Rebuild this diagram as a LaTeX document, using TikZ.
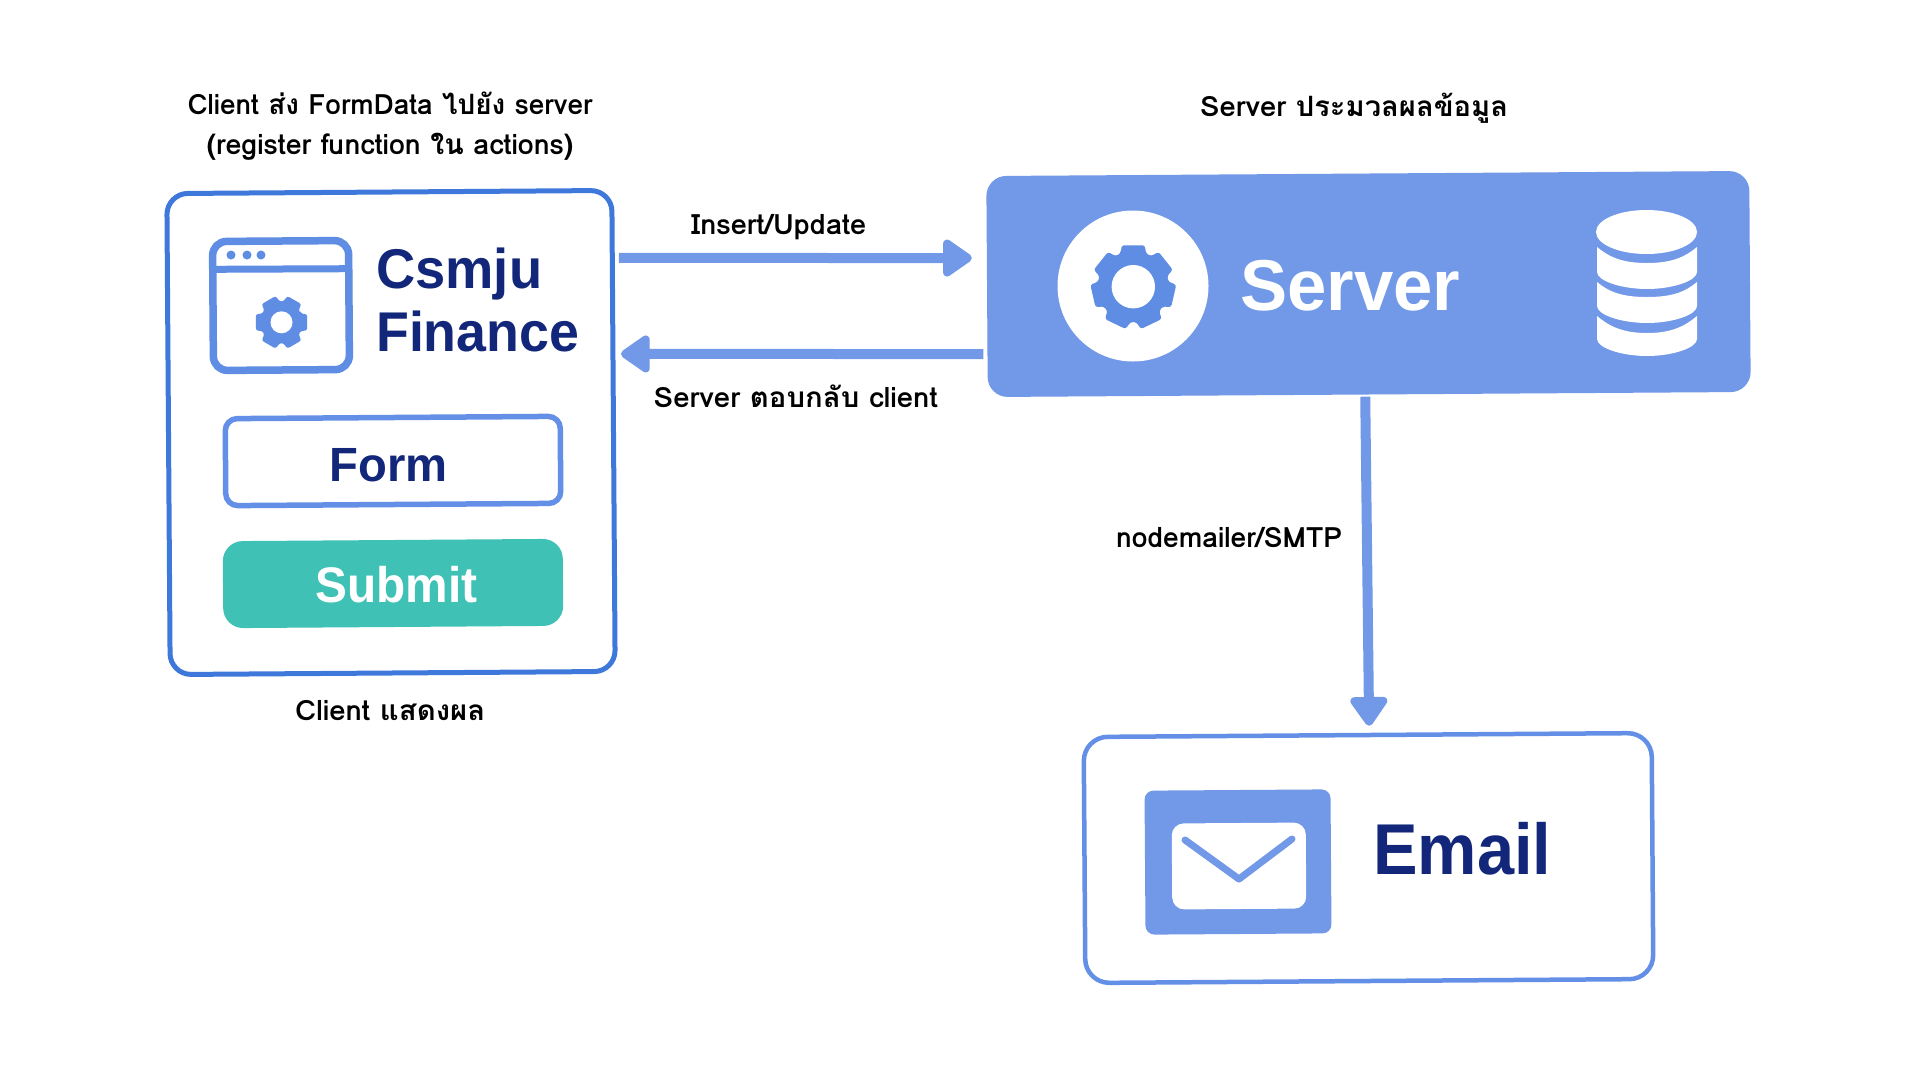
\documentclass[tikz,border=0pt]{standalone}
\usepackage{fontspec}
\usepackage{graphicx}
\usetikzlibrary{arrows.meta,calc}
\setmainfont{Liberation Sans}
\newfontfamily\labfam[Script=Thai]{Loma}
\definecolor{cliblue}{HTML}{3E78DA}
\definecolor{lineblue}{HTML}{638FE6}
\definecolor{panelblue}{HTML}{7298E8}
\definecolor{gearblue}{HTML}{5F8DE3}
\definecolor{navy}{HTML}{13277A}
\definecolor{teal}{HTML}{40C1B5}
\newcommand{\fitw}[2]{\resizebox{#1pt}{\height}{#2}}
\newcommand{\mygear}[9]{%
  \pgfmathsetmacro\stepang{360/#6}%
  \pgfmathtruncatemacro\lastk{#6-1}%
  \fill[gearblue,rounded corners=2.5pt,shift={(#1,#2)}]
    ({#7-#9}:#4)
    \foreach \k in {0,...,\lastk} {
      -- ({#7+\k*\stepang-#9}:#4) -- ({#7+\k*\stepang-#8}:#3)
      -- ({#7+\k*\stepang+#8}:#3) -- ({#7+\k*\stepang+#9}:#4)
    } -- cycle;
  \fill[white,shift={(#1,#2)}] (0,0) circle[radius=#5];
}
\newcommand{\dbseg}[4]{% top sides, top centre, bottom sides, bottom centre
  \fill[white] (1597,#1) .. controls (1609,#1+10) and (1622,#2) .. (1647,#2)
    .. controls (1672,#2) and (1685,#1+10) .. (1697,#1) -- (1697,#3)
    .. controls (1697,#4-8) and (1672,#4) .. (1647,#4)
    .. controls (1622,#4) and (1597,#4-8) .. (1597,#3) -- cycle;
}
\tikzset{
  lab/.style={inner sep=0pt,font=\labfam\bfseries\fontsize{28}{40}\selectfont,text=black},
  big/.style={inner sep=0pt,anchor=base west,font=\bfseries,text=navy},
  panel/.style={rotate=0.4,inner sep=0pt},
  conn/.style={line width=10pt,draw=panelblue,-{Triangle[length=32pt,width=42pt,line width=9pt,round]}},
}
\begin{document}
\begin{tikzpicture}[x=1pt,y=-1pt]
\useasboundingbox (0,0) rectangle (1920,1080);
\fill[white] (0,0) rectangle (1920,1080);
% client
\node[panel,draw=cliblue,line width=5pt,rounded corners=21pt,minimum width=445pt,minimum height=481pt] (cli) at (391,432.5) {};
\node[panel,draw=gearblue,line width=7.5pt,rounded corners=14pt,minimum width=136pt,minimum height=129pt] (brow) at (281,305.5) {};
\draw[gearblue,line width=7pt] (213.5,269.3) -- (348.5,268.7);
\fill[gearblue] (231,255) circle[radius=4.5] (247,255) circle[radius=4.5] (261,255) circle[radius=4.5];
\mygear{281.5}{322.3}{27}{21}{11}{6}{0}{18}{24}
\node[big,font=\bfseries\fontsize{56}{56}\selectfont] (t1) at (376,288.5) {\fitw{166}{Csmju}};
\node[big,font=\bfseries\fontsize{56}{56}\selectfont] (t2) at (376,351) {\fitw{203}{Finance}};
\node[panel,draw=lineblue,line width=5.5pt,rounded corners=12pt,minimum width=335pt,minimum height=87pt] (form) at (393,461) {};
\node[big,font=\bfseries\fontsize{48}{48}\selectfont] (t3) at (329.5,481) {\fitw{118}{Form}};
\node[panel,fill=teal,rounded corners=20pt,minimum width=340pt,minimum height=87pt] (sub) at (393,583.5) {};
\node[big,text=white,font=\bfseries\fontsize{50}{50}\selectfont] (t4) at (315,602) {\fitw{162}{Submit}};
% server
\node[panel,rotate=-0.02,fill=panelblue,rounded corners=20pt,minimum width=763pt,minimum height=221pt] (srv) at (1368.5,284) {};
\node[fill=white,circle,minimum size=151pt,inner sep=0pt] (gearc) at (1133,286) {};
\mygear{1133.3}{286.7}{43}{35.5}{21.7}{7}{-90}{15.5}{21}
\node[big,text=white,font=\bfseries\fontsize{72}{72}\selectfont] (t5) at (1240,310) {\fitw{220}{Server}};
\fill[white] (1646.5,232) ellipse[x radius=50.5,y radius=22];
\dbseg{247}{263}{272}{289}
\dbseg{282}{297}{306}{323}
\dbseg{316}{333}{339}{356}
% email
\node[panel,draw=lineblue,line width=4.5pt,rounded corners=24pt,minimum width=568pt,minimum height=246pt] (em) at (1368.5,858) {};
\node[panel,fill=panelblue,rounded corners=9pt,minimum width=186pt,minimum height=144pt] (mail) at (1238,862) {};
\node[panel,fill=white,rounded corners=12pt,minimum width=134pt,minimum height=86pt] (env) at (1239,866) {};
\draw[panelblue,line width=7pt,line cap=round,line join=round] (1185,840) -- (1239,879) -- (1292,839);
\node[big,font=\bfseries\fontsize{72}{72}\selectfont] (t6) at (1373,874) {\fitw{178}{Email}};
% connectors
\draw[conn] ($(cli.east)+(3,-173)$) -- ($(srv.west)+(-15,-28.5)$);
\draw[conn] ($(srv.west)+(-3.5,67.5)$) -- ($(cli.east)+(5,-77)$);
\draw[conn] ($(srv.south)+(-4,2)$) -- ($(em.north)+(1.5,-7)$);
% labels
\node[lab,align=center] (l1) at (390,126.5) {\fitw{405}{Client ส่ง FormData ไปยัง server}\\\fitw{367}{(register function ใน actions)}};
\node[lab,anchor=base west] (l2) at (1200,116) {\fitw{308}{Server ประมวลผลข้อมูล}};
\node[lab,anchor=base west] (l3) at (691,234) {\fitw{175}{Insert/Update}};
\node[lab,anchor=base west] (l4) at (653.5,407) {\fitw{284}{Server ตอบกลับ client}};
\node[lab,anchor=base west] (l5) at (1116,547) {\fitw{226}{nodemailer/SMTP}};
\node[lab,anchor=base west] (l6) at (295,720) {\fitw{190}{Client แสดงผล}};
\end{tikzpicture}
\end{document}
